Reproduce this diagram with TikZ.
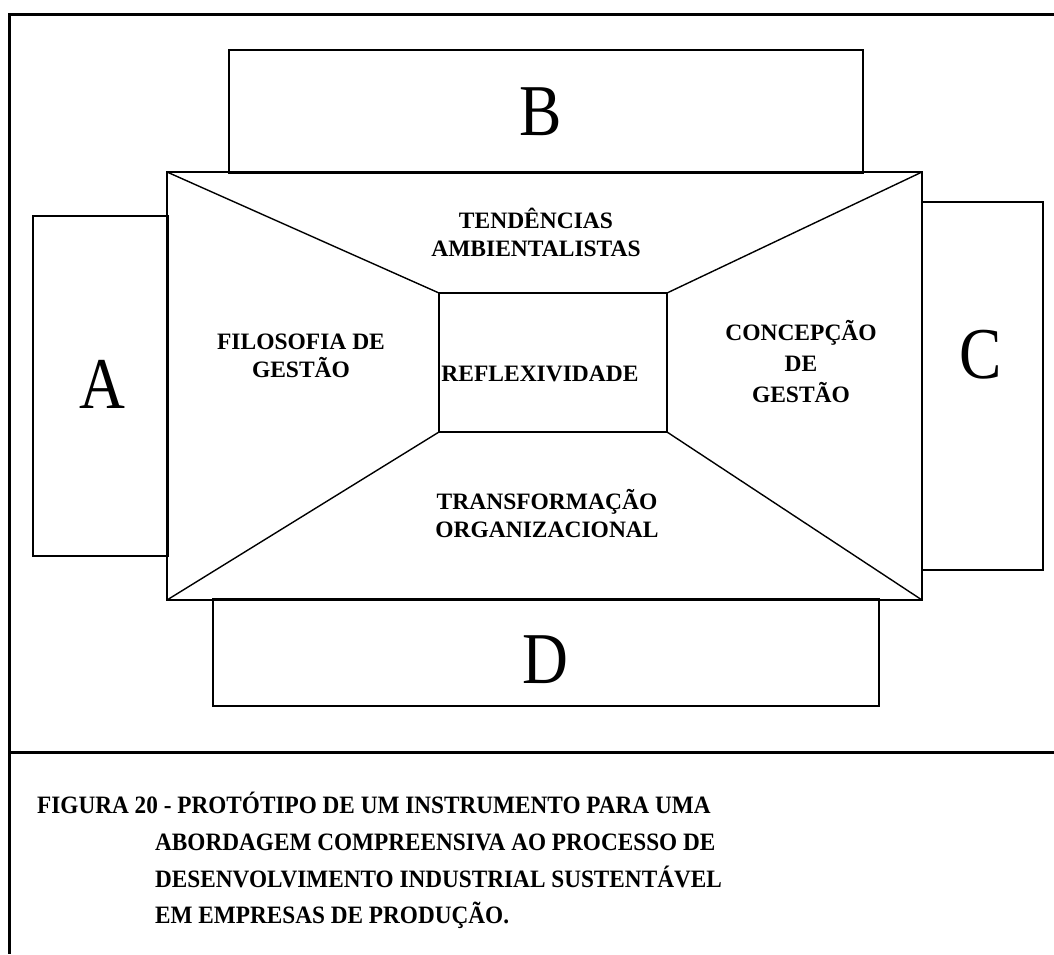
\documentclass[tikz,border=0pt]{standalone}
\usepackage{fontspec}
\setmainfont{Liberation Serif}
\newfontfamily\capfont[FakeStretch=0.93]{Liberation Serif}
\newfontfamily\bigfont[FakeStretch=0.87]{Liberation Serif}
\begin{document}
\begin{tikzpicture}[x=1pt,y=-1pt,
  frame/.style={line width=3pt},
  thin/.style={line width=1.4pt},
  letter/.style={font=\bigfont\fontsize{73}{80}\selectfont, inner sep=0pt, anchor=base},
  lbl/.style={font=\bfseries\fontsize{23.5}{28}\selectfont, align=center, inner sep=0pt},
]
\useasboundingbox (0,0) rectangle (1054,954);
% outer frame
\coordinate (ftl) at (9,14);
\coordinate (ftr) at (1054,14);
\coordinate (fbl) at (9,954);
\coordinate (sl) at (9,752);
\coordinate (sr) at (1054,752);
\draw[frame] (ftr) -- (ftl) -- (fbl);
\draw[frame] (sl) -- (sr);
% side boxes
\draw[thin] (229,50) rectangle (863,173);
\draw[thin] (33,216) rectangle (168,556);
\draw[thin] (922,202) rectangle (1043,570);
\draw[thin] (213,599) rectangle (879,706);
% trapezoid frame
\coordinate (otl) at (167,172);
\coordinate (otr) at (922,172);
\coordinate (obr) at (922,600);
\coordinate (obl) at (167,600);
\coordinate (itl) at (439,293);
\coordinate (itr) at (667,293);
\coordinate (ibr) at (667,432);
\coordinate (ibl) at (439,432);
\draw[thin] (otl) -- (otr) -- (obr) -- (obl) -- cycle;
\draw[thin] (itl) -- (itr) -- (ibr) -- (ibl) -- cycle;
\draw[thin] (otl) -- (itl);
\draw[thin] (otr) -- (itr);
\draw[thin] (obr) -- (ibr);
\draw[thin] (obl) -- (ibl);
% letters
\node[letter] (B) at (541,135) {B};
\node[letter] (A) at (102,408) {A};
\node[letter] (C) at (981,378) {C};
\node[letter] (D) at (545,683) {D};
% labels
\node[lbl] (tend) at (536,232) {TENDÊNCIAS\\AMBIENTALISTAS};
\node[lbl] (filo) at (301,356) {FILOSOFIA DE\\GESTÃO};
\node[lbl] (refl) at (540,374) {REFLEXIVIDADE};
\node[lbl, font=\bfseries\fontsize{23.5}{31}\selectfont] (conc) at (801,362) {CONCEPÇÃO\\DE\\GESTÃO};
\node[lbl] (trans) at (547,514) {TRANSFORMAÇÃO\\ORGANIZACIONAL};
% caption
\node[font=\capfont\bfseries\fontsize{25}{36.7}\selectfont, align=left, inner sep=0pt, anchor=north west] (cap) at (37,792)
  {FIGURA 20 - PROTÓTIPO DE UM INSTRUMENTO PARA UMA\\
   \hspace*{118pt}ABORDAGEM COMPREENSIVA AO PROCESSO DE\\
   \hspace*{118pt}DESENVOLVIMENTO INDUSTRIAL SUSTENTÁVEL\\
   \hspace*{118pt}EM EMPRESAS DE PRODUÇÃO.};
\end{tikzpicture}
\end{document}
